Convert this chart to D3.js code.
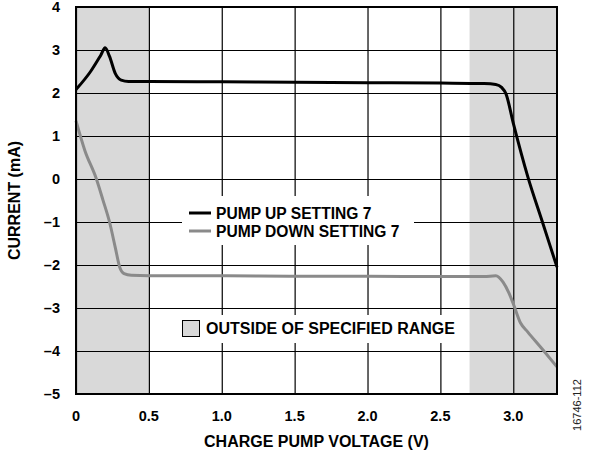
<!DOCTYPE html>
<html>
<head>
<meta charset="utf-8">
<script src="https://cdn.jsdelivr.net/npm/d3@7"></script>
<style>
  body { margin: 0; background: #fff; }
  svg text { font-family: "Liberation Sans", Arial, sans-serif; }
</style>
</head>
<body>
<div id="chart"></div>
<script>
// pump up, setting 7 (V, mA)
const pumpUpV = [0, 0.1, 0.17, 0.2, 0.23, 0.27, 0.31, 0.36, 0.5, 1.0, 1.5, 2.0, 2.5, 2.8, 2.88, 2.92, 2.95, 3.0, 3.1, 3.2, 3.3];
const pumpUpI = [2.08, 2.5, 2.88, 3.05, 2.85, 2.45, 2.3, 2.27, 2.27, 2.26, 2.25, 2.24, 2.23, 2.22, 2.2, 2.13, 1.98, 1.3, 0.05, -1.0, -2.05];
// pump down, setting 7
const pumpDnV = [0, 0.06, 0.14, 0.185, 0.23, 0.27, 0.3, 0.33, 0.38, 0.5, 1.0, 1.5, 2.0, 2.5, 2.8, 2.88, 2.93, 2.97, 3.0, 3.05, 3.1, 3.2, 3.3];
const pumpDnI = [1.35, 0.67, 0.0, -0.49, -1.0, -1.6, -2.05, -2.2, -2.24, -2.25, -2.25, -2.26, -2.26, -2.27, -2.27, -2.25, -2.4, -2.65, -2.9, -3.35, -3.56, -3.96, -4.37];

const shaded = [[0, 0.5], [2.7, 3.3]];
const xTicks = [0, 0.5, 1.0, 1.5, 2.0, 2.5, 3.0];
const yTicks = [-5, -4, -3, -2, -1, 0, 1, 2, 3, 4];

const width = 590, height = 454;
const margin = { top: 7, right: 33, bottom: 60, left: 76 };

const svg = d3.select("#chart").append("svg")
  .attr("width", width)
  .attr("height", height);

const x = d3.scaleLinear().domain([0, 3.3]).range([margin.left, width - margin.right]);
const y = d3.scaleLinear().domain([-5, 4]).range([height - margin.bottom, margin.top]);

// shaded ranges
svg.selectAll("rect.shade")
  .data(shaded)
  .join("rect")
  .attr("class", "shade")
  .attr("x", d => x(d[0]))
  .attr("y", y(4))
  .attr("width", d => x(d[1]) - x(d[0]))
  .attr("height", y(-5) - y(4))
  .attr("fill", "#d9d9d9");

// grid
svg.append("g")
  .attr("transform", `translate(0,${y(-5)})`)
  .call(d3.axisBottom(x).tickValues(xTicks).tickSize(-(y(-5) - y(4))).tickFormat(""))
  .call(g => g.select(".domain").remove())
  .selectAll("line").attr("stroke", "#000").attr("stroke-width", 1.2);

svg.append("g")
  .attr("transform", `translate(${x(0)},0)`)
  .call(d3.axisLeft(y).tickValues(yTicks).tickSize(-(x(3.3) - x(0))).tickFormat(""))
  .call(g => g.select(".domain").remove())
  .selectAll("line").attr("stroke", "#000").attr("stroke-width", 1.2);

// tick labels
svg.selectAll("text.xt")
  .data(xTicks)
  .join("text")
  .attr("class", "xt")
  .attr("x", d => x(d))
  .attr("y", 421)
  .attr("text-anchor", "middle")
  .attr("font-size", 14.5)
  .attr("font-weight", "bold")
  .text(d => d === 0 ? "0" : d.toFixed(1));

svg.selectAll("text.yt")
  .data(yTicks)
  .join("text")
  .attr("class", "yt")
  .attr("x", 60)
  .attr("y", d => y(d) + 5)
  .attr("text-anchor", "end")
  .attr("font-size", 14.5)
  .attr("font-weight", "bold")
  .text(d => d < 0 ? "\u2013" + Math.abs(d) : d);

// legend backgrounds
svg.append("rect").attr("x", 182).attr("y", 196).attr("width", 232).attr("height", 49).attr("fill", "#fff");
svg.append("rect").attr("x", 175).attr("y", 315).attr("width", 292).attr("height", 28).attr("fill", "#fff");

// curves
const line = d3.line().x(d => x(d[0])).y(d => y(d[1])).curve(d3.curveMonotoneX);

svg.append("path")
  .datum(pumpDnV.map((v, i) => [v, pumpDnI[i]]))
  .attr("d", line)
  .attr("fill", "none")
  .attr("stroke", "#8a8a8a")
  .attr("stroke-width", 3)
  .attr("stroke-linejoin", "round");

svg.append("path")
  .datum(pumpUpV.map((v, i) => [v, pumpUpI[i]]))
  .attr("d", line)
  .attr("fill", "none")
  .attr("stroke", "#000")
  .attr("stroke-width", 3)
  .attr("stroke-linejoin", "round");

// frame
svg.append("rect")
  .attr("x", x(0)).attr("y", y(4))
  .attr("width", x(3.3) - x(0)).attr("height", y(-5) - y(4))
  .attr("fill", "none").attr("stroke", "#000").attr("stroke-width", 2);

// legend
const legendItems = [["PUMP UP SETTING 7", "#000"], ["PUMP DOWN SETTING 7", "#8a8a8a"]];
legendItems.forEach(([label, color], i) => {
  svg.append("line")
    .attr("x1", 189).attr("x2", 211)
    .attr("y1", 213 + i * 18).attr("y2", 213 + i * 18)
    .attr("stroke", color).attr("stroke-width", 3);
  svg.append("text")
    .attr("x", 216).attr("y", 218.5 + i * 18)
    .attr("font-size", 15.6).attr("font-weight", "bold")
    .text(label);
});

svg.append("rect")
  .attr("x", 182.5).attr("y", 320.5).attr("width", 17).attr("height", 16)
  .attr("fill", "#d9d9d9").attr("stroke", "#000").attr("stroke-width", 1);
svg.append("text")
  .attr("x", 206).attr("y", 334)
  .attr("font-size", 16).attr("font-weight", "bold")
  .text("OUTSIDE OF SPECIFIED RANGE");

// axis titles
svg.append("text")
  .attr("x", (203 + 430) / 2).attr("y", 447)
  .attr("text-anchor", "middle")
  .attr("font-size", 16).attr("font-weight", "bold")
  .text("CHARGE PUMP VOLTAGE (V)");

svg.append("text")
  .attr("transform", `translate(20,${(y(4) + y(-5)) / 2}) rotate(-90)`)
  .attr("text-anchor", "middle")
  .attr("font-size", 16).attr("font-weight", "bold")
  .text("CURRENT (mA)");

svg.append("text")
  .attr("transform", "translate(581,405) rotate(-90)")
  .attr("text-anchor", "middle")
  .attr("font-size", 11)
  .attr("fill", "#222")
  .text("16746-112");
</script>
</body>
</html>
